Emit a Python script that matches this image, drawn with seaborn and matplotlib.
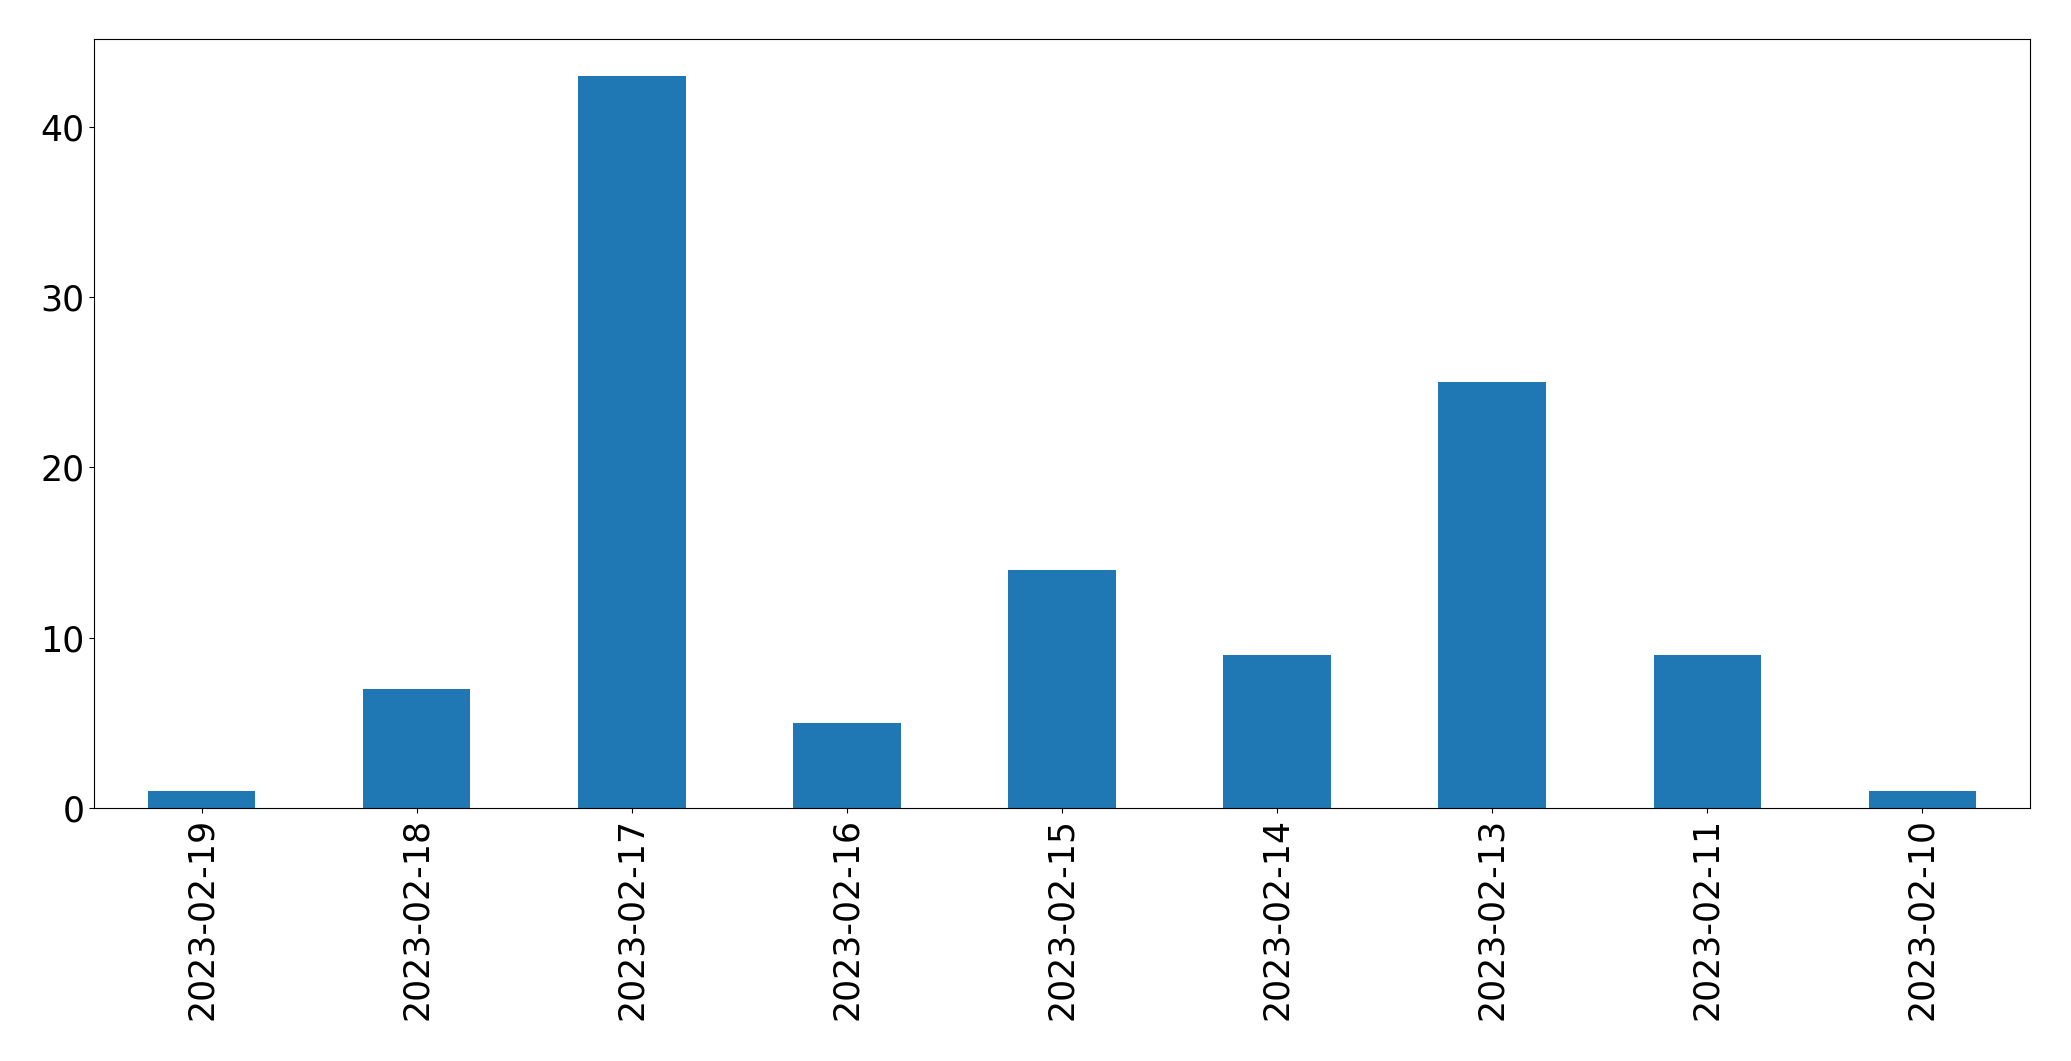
import numpy as np
import pandas as pd
import matplotlib
matplotlib.use('Agg')
import matplotlib.pyplot as plt
import seaborn as sns

# data
dates = ['2023-02-19', '2023-02-18', '2023-02-17', '2023-02-16', '2023-02-15',
         '2023-02-14', '2023-02-13', '2023-02-11', '2023-02-10']
counts = [1, 7, 43, 5, 14, 9, 25, 9, 1]

df = pd.DataFrame({'date': dates, 'count': counts})

fig = plt.figure(figsize=(20.71, 10.61), dpi=100)
ax = fig.add_axes([94 / 2071, 1 - 808 / 1061, (2030 - 94) / 2071, (808 - 39) / 1061])
sns.barplot(data=df, x='date', y='count', order=dates, color='#1f77b4',
            saturation=1, width=0.5, ax=ax)
ax.set_xlim(-0.5, len(dates) - 0.5)
ax.set_ylim(0, max(counts) * 1.05)
ax.set_xlabel('')
ax.set_ylabel('')
ax.tick_params(axis='both', labelsize=25)
plt.setp(ax.get_xticklabels(), rotation=90)

fig.savefig('out.png', dpi=100)
